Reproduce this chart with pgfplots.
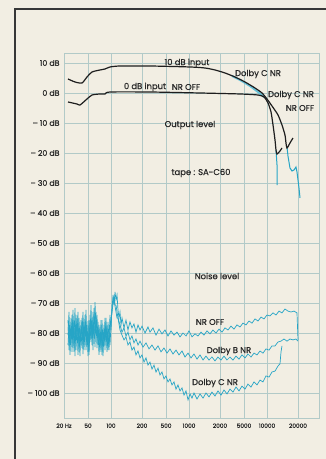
\documentclass[border=0pt]{standalone}
\usepackage{fontspec}
\setmainfont{Poppins}[FakeBold=0.7]
\usepackage{pgfplots}
\pgfplotsset{compat=1.18}
\definecolor{bgc}{RGB}{242,238,227}
\definecolor{gridc}{RGB}{178,202,200}
\definecolor{cyanc}{RGB}{38,165,198}
\definecolor{blk}{RGB}{30,30,30}
\definecolor{txt}{RGB}{40,40,40}
\definecolor{frm}{RGB}{55,55,55}
% maps a frequency in Hz onto the printed (slightly irregular) log paper
\def\freqpos#1{%
 \begingroup
 \pgfkeys{/pgf/fpu=true,/pgf/fpu/output format=fixed}%
 \pgfmathparse{ln(#1)/ln(10)}\let\fpL\pgfmathresult
 \pgfmathparse{floor(\fpL)}\let\fpD\pgfmathresult
 \pgfmathparse{\fpL-\fpD}\let\fpM\pgfmathresult
 \pgfmathparse{78*\fpD-45+(\fpM<0.30103 ? 31*\fpM/0.30103 : (\fpM<0.69897 ? 31+24*(\fpM-0.30103)/0.39794 : 55+23*(\fpM-0.69897)/0.30103))}%
 \global\let\fpR\pgfmathresult
 \endgroup
 \let\pgfmathresult\fpR}
\newcommand\lbl{\fontsize{8.4}{9}\selectfont}
\begin{document}
\begin{tikzpicture}[x=1pt,y=1pt]
\fill[bgc] (0,0) rectangle (326,459);
\useasboundingbox (0,0) rectangle (326,459);
\begin{axis}[
  at={(64pt,41pt)}, anchor=south west, scale only axis,
  width=255pt, height=365pt,
  x coord trafo/.code={\freqpos{#1}},
  xmin=20, xmax=44590, ymin=-108.33, ymax=13.33,
  xtick={20,50,100,200,500,1000,2000,5000,10000,20000},
  xticklabels={20 Hz,50,100,200,500,1000,2000,5000,10000,20000},
  ytick={10,0,-10,-20,-30,-40,-50,-60,-70,-80,-90,-100},
  yticklabels={10 dB,0 dB,– 10 dB,– 20 dB,– 30 dB,– 40 dB,– 50 dB,– 60 dB,– 70 dB,– 80 dB,– 90 dB,– 100 dB},
  grid=major, major grid style={draw=gridc, line width=0.8pt},
  axis line style={draw=gridc, line width=0.8pt},
  major tick length=0pt,
  tick label style={text=txt},
  yticklabel style={font=\fontsize{7.8}{8}\selectfont, xshift=-1pt},
  xticklabel style={font=\fontsize{5.8}{6}\selectfont, yshift=-2pt},
]
% ---- noise level, NR OFF
\addplot[cyanc, line width=0.7pt] coordinates {
(23.30,-80.7)(24.20,-73)(25.15,-84)(26.12,-75)(27.14,-86.3)(28.20,-75.7)(29.29,-82.3)(30.43,-71.7)
(31.62,-85.7)(32.85,-77.3)(34.12,-87.3)(35.45,-75)(36.83,-83)(38.26,-79)(39.75,-85)(41.30,-76.3)
(42.90,-84)(44.57,-74)(46.30,-85.7)(48.11,-78.3)(50.0,-87.7)(51.53,-75.7)(53.11,-82.3)(54.73,-70.7)
(56.41,-84)(58.13,-73)(59.91,-81.7)(61.75,-69.7)(63.64,-79)(65.58,-74)(67.59,-84)(69.66,-77.3)
(71.79,-85.7)(73.99,-75.7)(76.25,-87.3)(78.59,-79)(80.99,-84)(83.47,-75)(86.03,-82.3)(88.66,-77.3)
(91.37,-85.7)(94.17,-79)(97.05,-84)(100,-77.3)(102.3,-72.3)(104.6,-67.3)(106.9,-70.7)(109.4,-66.3)
(111.8,-69)(114.4,-67.3)(116.9,-72.3)(119.6,-75)(122.3,-73)(125.1,-77.3)(127.9,-75)
(133.7,-78.3)(139.8,-75.7)(146.2,-79)(152.9,-76.3)(159.9,-78.3)(167.2,-77)(174.9,-79.7)(182.9,-77.3)
(191.2,-79)(200,-77.7)(224.3,-80)(251.5,-78)(271.4,-79.7)(304.3,-78.3)(341.2,-80.7)(382.6,-78.7)
(429.0,-80.3)(481.1,-79)(531.1,-81)(581.3,-79.3)(636.4,-80.7)(696.6,-79.7)(762.5,-81.3)(834.7,-80)
(913.7,-81)(1000,-79.3)(1069,-81.3)(1144,-80.3)(1223,-81)(1308,-79.7)(1398,-80.7)(1495,-79.3)
(1599,-80.3)(1710,-79)(1829,-80)(1956,-78.7)(2159,-79.7)(2420,-78.3)(2714,-79)(3043,-77.7)
(3412,-78.7)(3826,-77.3)(4290,-78)(4811,-76.7)(5311,-77.3)(5813,-76)(6364,-76.7)(6966,-75.3)
(7625,-76)(8347,-74.7)(9137,-75.3)(10000,-74)(10690,-74.3)(11440,-73.3)(12230,-74)(13080,-72.7)
(13980,-73.3)(14950,-72)(15990,-72.7)(17100,-73)(18290,-72.7)(19560,-73.3)(20000,-82.3)
};
% ---- noise level, Dolby B NR
\addplot[cyanc, line width=0.7pt] coordinates {
(23.30,-75.7)(24.20,-85.7)(25.15,-77.3)(26.12,-83.3)(27.14,-74)(28.20,-85)(29.29,-76.3)(30.43,-87.7)
(31.62,-75)(32.85,-82.3)(34.12,-73)(35.45,-86.3)(36.83,-77.7)(38.26,-84)(39.75,-75)(41.30,-87)
(42.90,-76.3)(44.57,-82.3)(46.30,-72.3)(48.11,-84.7)(50.0,-76)(51.53,-86.3)(53.11,-74)(54.73,-81.7)
(56.41,-75.7)(58.13,-85.7)(59.91,-71.7)(61.75,-80.7)(63.64,-75)(65.58,-85)(67.59,-76.3)(69.66,-83.3)
(71.79,-78)(73.99,-86.3)(76.25,-75.7)(78.59,-83.7)(80.99,-77.3)(83.47,-85.7)(86.03,-75)(88.66,-84.3)
(91.37,-76.3)(94.17,-82.3)(97.05,-74)(100,-79)(102.3,-70.7)(104.6,-69)(106.9,-67.7)(109.4,-70.7)
(111.8,-70.7)(116.9,-75)(122.3,-77.3)(127.9,-79.7)(133.7,-78.3)(139.8,-81)(146.2,-79.7)(152.9,-82.3)
(159.9,-81)(167.2,-83.3)(174.9,-82)(182.9,-84)(191.2,-82.7)(207.8,-84.7)(233.0,-83.3)(261.2,-85.3)
(292.9,-84)(328.5,-85.7)(368.3,-84.3)(413.0,-86.3)(463.0,-85)(515.3,-86.7)(564.1,-85.3)(617.5,-87)
(675.9,-85.7)(739.9,-87.3)(809.9,-86)(886.6,-88)(970.5,-86.7)(1046,-88.3)(1118,-87)(1196,-88.7)
(1279,-87.3)(1368,-89)(1462,-87.7)(1564,-89)(1672,-88)(1788,-89.3)(1912,-88)(2078,-89)
(2330,-87.7)(2612,-89)(2929,-88)(3285,-89)(3683,-87.7)(4130,-88.7)(4630,-87.3)(5153,-88.3)
(5641,-87)(6175,-88)(6759,-86.7)(7399,-87.3)(8099,-86)(8866,-86.7)(9705,-85.3)(10460,-85.7)
(11180,-84.3)(11960,-84.3)(12790,-83)(13680,-82.7)(14620,-82)(15640,-82.7)(16720,-82)(17880,-82.3)
(19120,-82)(20000,-82.7)
};
% ---- noise level, Dolby C NR
\addplot[cyanc, line width=0.7pt] coordinates {
(23.30,-84)(24.20,-77.3)(25.15,-87.3)(26.12,-79)(27.14,-82.3)(28.20,-72.3)(29.29,-86.3)(30.43,-78.3)
(31.62,-81.7)(32.85,-74)(34.12,-83)(35.45,-79.7)(36.83,-87.7)(38.26,-75.7)(39.75,-81)(41.30,-73)
(42.90,-85.7)(44.57,-79)(46.30,-76.3)(48.11,-84)(50.0,-80.7)(51.53,-87.3)(53.11,-77.3)(54.73,-83)
(56.41,-75)(58.13,-81)(59.91,-77.7)(61.75,-84.7)(63.64,-73)(65.58,-81.7)(67.59,-79)(69.66,-87.3)
(71.79,-80.7)(73.99,-84)(76.25,-79)(78.59,-87.7)(80.99,-79.7)(83.47,-83)(86.03,-77.7)(88.66,-86.3)
(91.37,-80.7)(94.17,-85.7)(97.05,-78.3)(100,-75.7)(102.3,-73)(104.6,-70.3)(106.9,-69)(109.4,-71)
(111.8,-73)(114.4,-75)
(116.9,-75)(122.3,-79)(127.9,-80.7)(133.7,-82.3)(139.8,-81.3)(146.2,-84)(152.9,-83)(159.9,-85.7)
(167.2,-84.7)(174.9,-87.3)(182.9,-86)(191.2,-88.3)(200,-87.3)(215.9,-89.7)(233.0,-88.3)(251.5,-90.7)
(271.4,-89.7)(292.9,-92)(316.2,-90.7)(341.2,-93)(368.3,-91.7)(397.5,-94)(429.0,-93)(463.0,-95.3)
(500,-94.3)(531.1,-96.3)(564.1,-95.3)(599.1,-97.3)(636.4,-96.3)(675.9,-98.7)(717.9,-97.3)(762.5,-99.3)
(809.9,-98.3)(860.3,-100.7)(913.7,-99.3)(970.5,-102.3)(1023,-100.3)(1069,-101.7)(1118,-100)(1196,-102)
(1279,-100.3)(1368,-101.7)(1462,-100)(1564,-101.3)(1672,-99.7)(1788,-101)(1912,-99.3)(2078,-100.7)
(2330,-99)(2612,-100.3)(2929,-98.7)(3285,-99.7)(3683,-98)(4130,-99.3)(4630,-97.7)(5153,-98.7)
(5641,-97)(6175,-98)(6759,-96.3)(7399,-97.3)(8099,-95.7)(8866,-96.3)(9705,-94.3)(10460,-94.7)
(11180,-93)(11960,-92.7)(12790,-91)(13370,-90.3)(13680,-86.3)(13980,-84.3)
};
% ---- output level, Dolby C segments (cyan)
\addplot[cyanc!70, line width=2pt, smooth] coordinates {
(3162,5.67)(4290,4.33)(5991,2.33)(7625,0.33)(9137,-1.33)
};
\addplot[cyanc, line width=1pt] coordinates {
(12230,-19)(12510,-24)(12510,-30.67)
};
\addplot[cyanc, line width=1pt] coordinates {
(15640,-18)(15990,-21)(16720,-25)(17490,-26)(18290,-25.67)(19120,-24.67)(19560,-26.33)(20780,-31.67)(21590,-35)
};
% ---- output level, 10 dB input, NR OFF
\addplot[blk, line width=1.2pt, smooth, tension=0.4] coordinates {
(23.30,4.67)(30.43,3.67)(39.75,3.33)(48.11,5.33)(56.41,7.0)(71.79,7.67)(83.47,8.0)(97.05,8.67)
(122.3,9.0)(271.4,9.0)(1023,8.67)(1430,8.33)(1788,7.67)(2420,6.67)(3545,5.33)(5153,3.67)
(6966,1.67)(8603,0)(10000,-2)(11180,-4.33)(12790,-7.33)(13980,-10.67)(14950,-14)(15290,-16.67)
(15640,-18.33)(16720,-16.67)(17880,-15)
};
% ---- output level, 0 dB input, NR OFF
\addplot[blk, line width=1.2pt, smooth, tension=0.4] coordinates {
(23.30,-3)(32.85,-3.67)(36.83,-4)(48.11,-2)(56.41,-0.67)(71.79,-0.33)(83.47,-0.33)(97.05,0.33)
(271.4,0.33)(1279,0)(4290,-0.33)(7625,-0.67)(9137,-1.33)(10230,-3.33)(10940,-6.33)(11440,-10.67)
(11960,-15.67)(12230,-19)(12510,-20.33)(13370,-19.33)(13980,-18.33)
};
\end{axis}
% frame of the page
\draw[frm, line width=2pt] (15,-5) -- (15,450);
\draw[frm, line width=1.2pt] (14,450) -- (330,450);
% annotations
\begin{scope}[every node/.style={font=\lbl, text=txt, inner sep=0pt}]
\node at (187,396) {10 dB input};
\node at (258,385) {Dolby C NR};
\node at (145,372) {0 dB input};
\node at (186,372) {NR OFF};
\node at (291,364) {Dolby C NR};
\node at (300,351) {NR OFF};
\node at (190,334) {Output level};
\node at (201,286) {tape : SA-C60};
\node at (217,183) {Noise level};
\node at (210,137) {NR OFF};
\node at (229,108) {Dolby B NR};
\node at (215,76) {Dolby C NR};
\end{scope}
\end{tikzpicture}
\end{document}
